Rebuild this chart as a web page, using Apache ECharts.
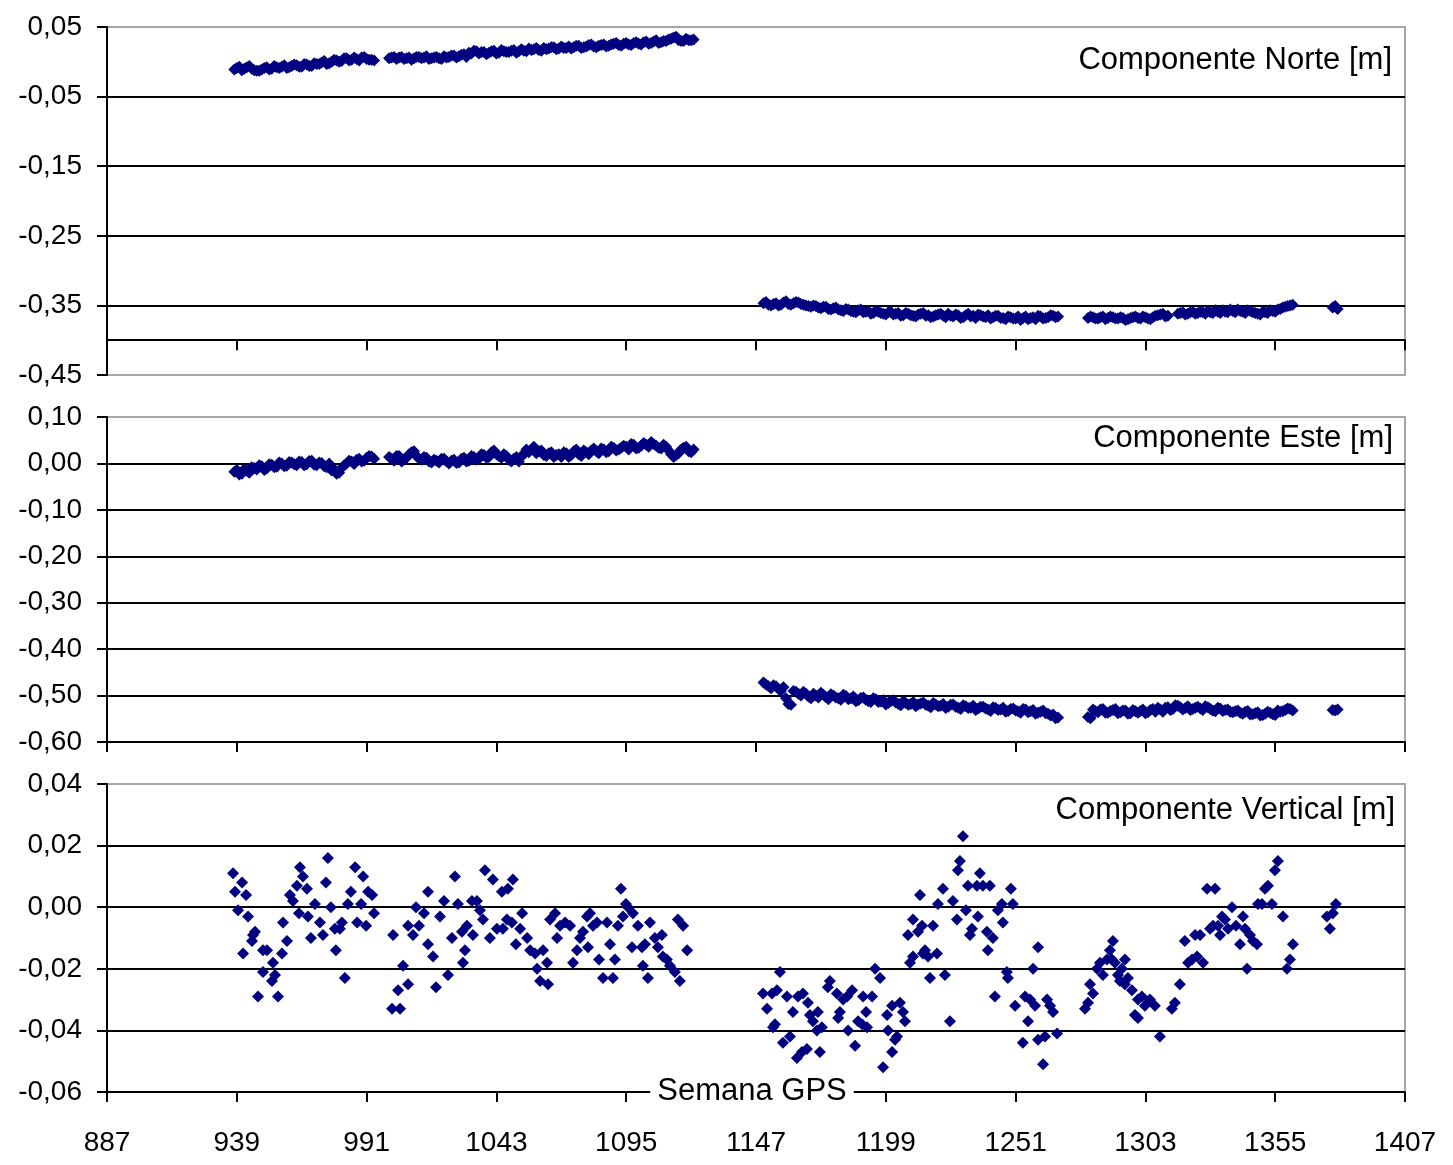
<!DOCTYPE html>
<html>
<head>
<meta charset="utf-8">
<script src="https://cdn.jsdelivr.net/npm/echarts@6/dist/echarts.min.js"></script>
<style>html,body{margin:0;padding:0;background:#fff}#c{width:1453px;height:1165px}</style>
</head>
<body>
<div id="c"></div>
<script>
// ---- data (GPS weeks and components in metres) ----
// even weeks
const weeksNE = [
  938,940,942,944,946,948,950,952,954,956,958,960,962,964,966,968,970,972,974,976,978,980,982,984,986,988,990,992,994,
  1000,1002,1004,1006,1008,1010,1012,1014,1016,1018,1020,1022,1024,1026,1028,1030,1032,1034,1036,1038,1040,1042,1044,1046,1048,1050,1052,1054,1056,1058,1060,1062,1064,1066,1068,1070,1072,1074,1076,1078,1080,1082,1084,1086,1088,1090,1092,1094,1096,1098,1100,1102,1104,1106,1108,1110,1112,1114,1116,1118,1120,1122,
  1150,1152,1154,1156,1158,1160,1162,1164,1166,1168,1170,1172,1174,1176,1178,1180,1182,1184,1186,1188,1190,1192,1194,1196,1198,1200,1202,1204,1206,1208,1210,1212,1214,1216,1218,1220,1222,1224,1226,1228,1230,1232,1234,1236,1238,1240,1242,1244,1246,1248,1250,1252,1254,1256,1258,1260,1262,1264,1266,1268,
  1280,1282,1284,1286,1288,1290,1292,1294,1296,1298,1300,1302,1304,1306,1308,1310,1312,1314,1316,1318,1320,1322,1324,1326,1328,1330,1332,1334,1336,1338,1340,1342,1344,1346,1348,1350,1352,1354,1356,1358,1360,1362,
  1378,1380
];
const norte = [
  -0.011,-0.007,-0.010,-0.006,-0.012,-0.013,-0.009,-0.011,-0.006,-0.009,-0.005,-0.008,-0.004,-0.007,-0.003,-0.006,-0.002,-0.003,0.001,-0.002,0.003,0.000,0.005,0.002,0.006,0.002,0.007,0.003,0.002,
  0.005,0.007,0.006,0.004,0.006,0.005,0.007,0.006,0.004,0.006,0.005,0.008,0.007,0.009,0.008,0.011,0.013,0.016,0.012,0.014,0.013,0.016,0.013,0.015,0.014,0.017,0.015,0.016,0.019,0.018,0.017,0.020,0.019,0.021,0.019,0.020,0.022,0.021,0.023,0.021,0.024,0.022,0.023,0.025,0.023,0.026,0.024,0.026,0.025,0.027,0.026,0.028,0.026,0.029,0.027,0.030,0.032,0.035,0.031,0.030,0.031,0.032,
  -0.347,-0.349,-0.348,-0.350,-0.346,-0.348,-0.347,-0.346,-0.349,-0.351,-0.350,-0.353,-0.352,-0.355,-0.354,-0.356,-0.358,-0.356,-0.359,-0.357,-0.360,-0.358,-0.361,-0.359,-0.362,-0.360,-0.363,-0.361,-0.364,-0.362,-0.365,-0.363,-0.361,-0.364,-0.366,-0.363,-0.365,-0.362,-0.366,-0.364,-0.367,-0.362,-0.365,-0.363,-0.366,-0.364,-0.367,-0.365,-0.368,-0.366,-0.369,-0.366,-0.368,-0.370,-0.367,-0.365,-0.369,-0.367,-0.365,-0.366,
  -0.368,-0.367,-0.369,-0.366,-0.368,-0.367,-0.369,-0.368,-0.370,-0.367,-0.368,-0.366,-0.369,-0.367,-0.364,-0.362,-0.365,null,-0.362,-0.360,-0.362,-0.359,-0.361,-0.360,-0.358,-0.361,-0.359,-0.357,-0.360,-0.358,-0.356,-0.359,-0.357,-0.360,-0.362,-0.359,-0.361,-0.358,-0.356,-0.353,-0.351,-0.349,
  -0.353,-0.355
];
const este = [
  -0.018,-0.024,-0.012,-0.020,-0.010,-0.004,-0.014,-0.002,-0.008,0.002,-0.006,0.003,-0.002,0.004,-0.004,0.005,-0.003,0.002,-0.006,0.000,-0.012,-0.020,-0.004,0.006,-0.001,0.010,0.006,0.016,0.010,
  0.014,0.006,0.016,0.008,0.020,0.026,0.010,0.014,0.004,0.008,0.002,0.010,0.000,0.008,0.002,0.012,0.006,0.014,0.010,0.018,0.014,0.028,0.016,0.020,0.008,0.010,0.004,0.020,0.024,0.036,0.026,0.018,0.022,0.014,0.020,0.024,0.014,0.026,0.020,0.028,0.020,0.032,0.022,0.030,0.026,0.034,0.030,0.038,0.030,0.040,0.034,0.044,0.036,0.042,0.034,0.040,0.028,0.014,0.022,0.034,0.026,0.030,
  -0.472,-0.480,-0.478,-0.486,-0.482,-0.518,-0.490,-0.496,-0.492,-0.502,-0.496,-0.504,-0.498,-0.508,-0.500,-0.506,-0.498,-0.508,-0.502,-0.510,-0.504,-0.512,-0.506,-0.514,-0.510,-0.516,-0.510,-0.518,-0.512,-0.520,-0.514,-0.519,-0.515,-0.522,-0.516,-0.523,-0.518,-0.524,-0.519,-0.526,-0.521,-0.527,-0.522,-0.528,-0.524,-0.530,-0.525,-0.531,-0.526,-0.533,-0.528,-0.534,-0.529,-0.536,-0.531,-0.537,-0.532,-0.539,-0.541,-0.547,
  -0.546,-0.530,-0.536,-0.529,-0.537,-0.531,-0.538,-0.532,-0.539,-0.531,-0.537,-0.530,-0.536,-0.529,-0.526,-0.535,-0.525,-0.529,-0.522,-0.530,-0.523,-0.529,-0.524,-0.531,-0.525,-0.532,-0.526,-0.533,-0.530,-0.536,-0.532,-0.539,-0.533,-0.540,-0.536,-0.542,-0.535,-0.540,-0.532,-0.534,-0.528,-0.532,
  -0.531,-0.530
];
// odd weeks
const weeksNEodd = [
  939,941,943,945,947,949,951,953,955,957,959,961,963,965,967,969,971,973,975,977,979,981,983,985,987,989,991,993,
  1001,1003,1005,1007,1009,1011,1013,1015,1017,1019,1021,1023,1025,1027,1029,1031,1033,1035,1037,1039,1041,1043,1045,1047,1049,1051,1053,1055,1057,1059,1061,1063,1065,1067,1069,1071,1073,1075,1077,1079,1081,1083,1085,1087,1089,1091,1093,1095,1097,1099,1101,1103,1105,1107,1109,1111,1113,1115,1117,1119,1121,
  1151,1153,1155,1157,1159,1161,1163,1165,1167,1169,1171,1173,1175,1177,1179,1181,1183,1185,1187,1189,1191,1193,1195,1197,1199,1201,1203,1205,1207,1209,1211,1213,1215,1217,1219,1221,1223,1225,1227,1229,1231,1233,1235,1237,1239,1241,1243,1245,1247,1249,1251,1253,1255,1257,1259,1261,1263,1265,1267,
  1281,1283,1285,1287,1289,1291,1293,1295,1297,1299,1301,1303,1305,1307,1309,1311,1313,1315,1317,1319,1321,1323,1325,1327,1329,1331,1333,1335,1337,1339,1341,1343,1345,1347,1349,1351,1353,1355,1357,1359,1361,
  1379
];
const norteOdd = [
  -0.009,-0.012,-0.008,-0.010,-0.013,-0.011,-0.008,-0.010,-0.008,-0.007,-0.009,-0.006,-0.005,-0.007,-0.004,-0.006,-0.003,-0.001,-0.003,0.000,0.002,0.001,0.005,0.003,0.004,0.006,0.004,0.003,
  0.006,0.004,0.007,0.005,0.003,0.007,0.005,0.008,0.005,0.007,0.004,0.006,0.009,0.006,0.010,0.007,0.012,0.015,0.014,0.011,0.015,0.012,0.017,0.014,0.016,0.013,0.018,0.015,0.017,0.020,0.016,0.018,0.021,0.018,0.022,0.020,0.019,0.023,0.020,0.022,0.025,0.021,0.024,0.022,0.025,0.027,0.023,0.027,0.024,0.028,0.025,0.029,0.027,0.031,0.028,0.030,0.033,0.036,0.030,0.033,0.031,
  -0.345,-0.350,-0.347,-0.349,-0.344,-0.349,-0.345,-0.348,-0.350,-0.352,-0.351,-0.354,-0.352,-0.356,-0.353,-0.357,-0.355,-0.358,-0.360,-0.356,-0.359,-0.362,-0.358,-0.361,-0.363,-0.359,-0.362,-0.365,-0.361,-0.364,-0.366,-0.362,-0.365,-0.367,-0.364,-0.362,-0.367,-0.365,-0.363,-0.368,-0.364,-0.366,-0.368,-0.364,-0.367,-0.369,-0.365,-0.368,-0.370,-0.367,-0.369,-0.371,-0.366,-0.368,-0.370,-0.366,-0.368,-0.364,-0.367,
  -0.366,-0.369,-0.367,-0.370,-0.366,-0.369,-0.367,-0.371,-0.368,-0.366,-0.369,-0.367,-0.370,-0.365,-0.363,-0.366,null,null,-0.361,-0.363,-0.360,-0.362,-0.359,-0.362,-0.360,-0.357,-0.361,-0.359,-0.356,-0.360,-0.358,-0.361,-0.358,-0.361,-0.363,-0.360,-0.357,-0.359,-0.355,-0.352,-0.350,
  -0.351
];
const esteOdd = [
  -0.014,-0.022,-0.016,-0.008,-0.013,-0.006,-0.011,-0.003,-0.007,0.000,-0.005,0.002,-0.004,0.003,-0.002,0.006,-0.004,0.001,-0.008,-0.015,-0.022,-0.010,0.000,0.004,0.008,0.004,0.012,0.015,
  0.010,0.016,0.004,0.012,0.024,0.016,0.008,0.012,0.002,0.006,0.010,0.004,0.006,0.001,0.010,0.004,0.016,0.008,0.020,0.012,0.024,0.020,0.012,0.016,0.004,0.014,0.016,0.030,0.030,0.022,0.028,0.016,0.024,0.018,0.014,0.022,0.018,0.030,0.016,0.024,0.028,0.026,0.032,0.024,0.036,0.028,0.034,0.036,0.042,0.032,0.038,0.040,0.046,0.038,0.032,0.036,0.020,0.018,0.030,0.036,0.024,
  -0.476,-0.484,-0.480,-0.490,-0.506,-0.520,-0.492,-0.500,-0.496,-0.506,-0.500,-0.494,-0.503,-0.497,-0.504,-0.509,-0.501,-0.506,-0.512,-0.505,-0.509,-0.514,-0.508,-0.513,-0.519,-0.512,-0.515,-0.521,-0.516,-0.518,-0.523,-0.517,-0.520,-0.525,-0.519,-0.522,-0.527,-0.520,-0.524,-0.529,-0.523,-0.526,-0.531,-0.524,-0.528,-0.533,-0.527,-0.530,-0.535,-0.529,-0.532,-0.537,-0.530,-0.534,-0.539,-0.535,-0.538,-0.543,-0.549,
  -0.549,-0.534,-0.530,-0.537,-0.533,-0.529,-0.536,-0.532,-0.538,-0.534,-0.533,-0.538,-0.531,-0.535,-0.530,-0.526,-0.531,-0.521,-0.525,-0.527,-0.531,-0.526,-0.528,-0.523,-0.529,-0.534,-0.528,-0.531,-0.535,-0.534,-0.537,-0.535,-0.541,-0.538,-0.543,-0.539,-0.537,-0.542,-0.535,-0.531,-0.529,
  -0.532
];
const vertWeeks = [
  937.5,941.1,938.3,942.7,939.5,943.5,941.5,945.5,946.3,945.1,949.5,951.1,953.5,949.5,954.3,953.1,947.5,955.5,957.1,959.1,957.5,960.3,961.5,963.1,964.3,965.5,967.1,963.9,967.5,970.3,972.3,973.5,968.7,975.5,974.7,976.7,978.7,978.3,981.1,980.3,982.3,983.5,984.7,986.4,989.6,991.6,993.2,988.8,987.2,990.8,994.0,
  1001.6,1005.6,1003.6,1007.6,1001.2,1004.4,1007.6,1012.0,1009.6,1010.8,1014.0,1015.6,1015.6,1017.6,1018.8,1020.4,1022.0,1023.6,1025.2,1026.4,1027.6,1029.2,1029.6,1031.2,
  1038.4,1041.6,1045.2,1047.6,1049.6,1033.2,1035.2,1036.4,1037.6,1033.6,1030.4,1040.4,1043.2,1045.6,1047.2,1049.2,1050.8,1053.3,1052.5,1055.3,1056.5,1058.5,1059.3,1060.5,1063.7,1061.7,1063.3,1064.5,1066.5,1067.3,1068.5,1070.5,1072.5,1073.7,1075.3,1076.5,1077.7,1079.3,1080.5,1079.7,1081.7,1083.3,1084.1,1085.7,1087.3,1088.5,1089.7,1090.5,1091.7,1092.9,1094.9,1095.7,1093.7,1097.7,1099.7,1097.3,1101.3,1102.5,1101.7,1103.7,1104.5,1106.5,1107.7,1109.3,1109.7,1111.3,1112.5,1114.5,1116.5,1115.7,1117.8,1119.4,
  1156.6,1149.8,1153.4,1155.4,1159.4,1151.4,1154.6,1153.8,1157.8,1160.6,1161.8,1163.4,1165.4,1167.4,1163.8,1165.8,1167.8,1168.6,1169.8,1171.8,1171.4,1173.4,1172.6,1176.6,1175.8,1179.4,1180.6,1179.9,1181.9,1183.5,1185.5,1183.9,1186.7,1187.9,1189.5,1189.9,1191.5,1191.1,1193.5,1194.7,1196.7,1197.9,1199.5,1199.9,1201.5,1203.5,1204.7,1205.9,1206.7,1201.5,1202.7,1208.7,1209.9,1216.7,1213.9,
  1229.9,1228.7,1227.9,1236.7,1231.9,1235.5,1237.9,1240.7,1221.9,1212.7,1249.1,1219.9,1225.9,1231.1,1245.5,1249.9,1243.9,1227.5,1235.9,1209.9,1245.9,1213.5,1217.9,1233.5,1207.9,1211.9,1232.7,1239.5,1241.9,1214.7,1219.5,1215.9,1239.9,1260.0,1222.7,1247.5,1258.0,1247.9,1242.7,1254.8,1256.8,1258.8,1263.6,1264.8,1266.0,1250.8,1256.0,1224.7,1267.6,1253.9,1260.0,1262.8,1262.0,
  1278.8,1280.0,1280.8,1282.0,1283.6,1284.8,1286.0,1287.6,1288.8,1290.0,1290.8,1292.0,1293.6,1294.8,1296.0,1297.6,1298.8,1300.0,1301.6,1302.8,1304.8,1306.8,1308.8,1289.6,1292.8,1300.0,1294.8,
  1313.6,1314.8,1316.8,1318.8,1320.1,1321.7,1322.9,1324.9,1326.1,1327.7,1328.9,1330.9,1332.1,1332.9,1334.9,1336.1,1337.7,1339.3,1340.9,1342.1,1343.7,1344.9,1346.1,1347.7,1349.7,1350.9,1352.1,1353.7,1354.9,1356.1,1358.1,1359.7,1360.9,1362.1,1323.7,1330.1,1333.7,1342.9,1348.1,
  1375.7,1376.9,1378.1,1379.3
];
const vertical = [
  0.011,0.008,0.005,0.004,-0.001,-0.003,-0.015,-0.009,-0.008,-0.011,-0.014,-0.014,-0.018,-0.021,-0.022,-0.024,-0.029,-0.029,-0.015,-0.011,-0.005,0.004,0.002,0.007,0.013,0.010,0.006,-0.002,-0.003,0.001,-0.005,-0.009,-0.010,0.016,0.008,0.000,-0.014,-0.007,-0.005,-0.007,-0.023,0.001,0.005,0.013,0.010,0.005,0.004,0.001,-0.005,-0.006,-0.002,
  -0.009,-0.019,-0.027,-0.025,-0.033,-0.033,-0.006,-0.006,-0.009,0.000,-0.002,0.005,-0.012,-0.016,-0.026,-0.003,0.002,-0.022,-0.010,0.010,0.001,-0.008,-0.018,-0.006,
  0.012,0.009,0.005,0.006,0.009,0.002,0.002,-0.001,-0.004,-0.009,-0.014,-0.010,-0.007,-0.007,-0.004,-0.005,-0.012,-0.002,-0.007,-0.010,-0.014,-0.015,-0.020,-0.024,-0.025,-0.014,-0.018,-0.004,-0.002,-0.010,-0.006,-0.005,-0.006,-0.018,-0.014,-0.010,-0.008,-0.003,-0.002,-0.013,-0.006,-0.005,-0.017,-0.023,-0.005,-0.012,-0.023,-0.017,-0.006,0.006,0.001,0.000,-0.003,-0.002,-0.006,-0.013,-0.013,-0.012,-0.019,-0.023,-0.005,-0.010,-0.013,-0.009,-0.016,-0.017,-0.019,-0.021,-0.024,-0.004,-0.006,-0.014,
  -0.021,-0.028,-0.028,-0.027,-0.029,-0.033,-0.038,-0.039,-0.044,-0.042,-0.034,-0.049,-0.047,-0.046,-0.029,-0.028,-0.031,-0.035,-0.037,-0.034,-0.040,-0.039,-0.047,-0.024,-0.026,-0.028,-0.034,-0.036,-0.030,-0.029,-0.027,-0.040,-0.045,-0.037,-0.038,-0.029,-0.039,-0.034,-0.029,-0.020,-0.023,-0.052,-0.035,-0.040,-0.032,-0.042,-0.031,-0.034,-0.037,-0.047,-0.043,-0.018,-0.016,-0.023,-0.015,
  0.023,0.015,0.012,0.011,0.007,0.007,0.007,0.007,0.006,0.004,0.006,0.001,0.002,-0.001,0.001,0.001,-0.001,-0.004,-0.003,-0.004,-0.005,-0.006,-0.006,-0.007,-0.009,-0.008,-0.009,-0.008,-0.010,-0.014,-0.015,-0.016,-0.014,-0.013,-0.022,-0.021,-0.020,-0.023,-0.029,-0.029,-0.030,-0.032,-0.030,-0.032,-0.034,-0.032,-0.037,-0.037,-0.041,-0.044,-0.043,-0.042,-0.051,
  -0.033,-0.031,-0.025,-0.028,-0.020,-0.018,-0.022,-0.017,-0.014,-0.011,-0.018,-0.022,-0.020,-0.025,-0.023,-0.027,-0.035,-0.030,-0.029,-0.032,-0.030,-0.032,-0.042,-0.017,-0.024,-0.036,-0.017,
  -0.033,-0.031,-0.025,-0.011,-0.018,-0.017,-0.009,-0.009,-0.018,0.006,-0.007,0.006,-0.006,-0.009,-0.004,-0.007,0.000,-0.006,-0.012,-0.003,-0.020,-0.009,-0.011,-0.012,0.001,0.006,0.007,0.001,0.012,0.015,-0.003,-0.020,-0.017,-0.012,-0.016,-0.006,-0.003,-0.007,0.001,
  -0.003,-0.007,-0.002,0.001
];
const xTickMin = 887, xTickMax = 1407, xTickStep = 52;
const panelTitles = ['Componente Norte [m]', 'Componente Este [m]', 'Componente Vertical [m]'];
const xAxisTitle = 'Semana GPS';

// ---- chart ----
const FONT = "'Liberation Sans', Arial, sans-serif";
const NAVY = '#000080';
const BORDER = '#a6a6a6';
function fmt(v) { if (Math.abs(v) < 1e-9) v = 0; return v.toFixed(2).replace('.', ','); }

const gridBase = { left: 107, right: 48, show: true, borderColor: BORDER, borderWidth: 2, backgroundColor: '#fff' };

function xAx(i) {
  return {
    type: 'value', gridIndex: i, min: xTickMin, max: xTickMax, interval: xTickStep,
    axisLine: i === 0
      ? { show: true, onZero: true, onZeroAxisIndex: 1, lineStyle: { color: '#000', width: 2 } }
      : { show: true, onZero: false, lineStyle: { color: '#000', width: 2 } },
    axisTick: { show: true, inside: false, length: 10, lineStyle: { color: '#000', width: 2 } },
    axisLabel: { show: i === 2, color: '#000', fontSize: 28, fontFamily: FONT, margin: 37, formatter: v => String(Math.round(v)) },
    splitLine: { show: false }
  };
}
function yAx(i, min, max, step, colors) {
  return {
    type: 'value', gridIndex: i, min: min, max: max, interval: step,
    axisLine: { show: true, onZero: false, lineStyle: { color: '#000', width: 2 } },
    axisTick: { show: true, inside: false, length: 10, lineStyle: { color: '#000', width: 2 } },
    axisLabel: { formatter: fmt, color: '#000', fontSize: 28, fontFamily: FONT, margin: 25 },
    splitLine: { show: true, lineStyle: { color: colors, width: 2 } }
  };
}
const sc = (xi, yi, data, size) => ({
  type: 'scatter', xAxisIndex: xi, yAxisIndex: yi, symbol: 'diamond', symbolSize: size,
  itemStyle: { color: NAVY, opacity: 1 }, data: data, silent: true
});
const pairs = (ws, vs) => ws.map((w, i) => [w, vs[i]]).filter(p => p[1] !== null);

const norteData = pairs(weeksNE, norte).concat(pairs(weeksNEodd, norteOdd));
const esteData = pairs(weeksNE, este).concat(pairs(weeksNEodd, esteOdd));
const vertData = pairs(vertWeeks, vertical);

const option = {
  animation: false,
  backgroundColor: '#fff',
  grid: [
    Object.assign({}, gridBase, { top: 27, height: 348 }),
    Object.assign({}, gridBase, { top: 417, height: 325 }),
    Object.assign({}, gridBase, { top: 784, height: 308 })
  ],
  xAxis: [xAx(0), xAx(1), xAx(2)],
  yAxis: [
    yAx(0, -0.45, 0.05, 0.1, [BORDER, '#000', '#000', '#000', '#000', BORDER]),
    { type: 'value', gridIndex: 0, min: -0.05, max: 0.45, show: false },
    yAx(1, -0.6, 0.1, 0.1, ['#000', '#000', '#000', '#000', '#000', '#000', '#000', BORDER]),
    yAx(2, -0.06, 0.04, 0.02, ['#000', '#000', '#000', '#000', '#000', BORDER])
  ],
  series: [sc(0, 0, norteData, 12), sc(1, 2, esteData, 12), sc(2, 3, vertData, 12)],
  graphic: [
    { type: 'text', x: 1392, y: 60, z: 100, style: { text: panelTitles[0], fill: '#000', font: '31px ' + FONT, align: 'right', verticalAlign: 'middle' } },
    { type: 'text', x: 1393, y: 438, z: 100, style: { text: panelTitles[1], fill: '#000', font: '31px ' + FONT, align: 'right', verticalAlign: 'middle' } },
    { type: 'text', x: 1395, y: 810, z: 100, style: { text: panelTitles[2], fill: '#000', font: '31px ' + FONT, align: 'right', verticalAlign: 'middle' } },
    { type: 'text', x: 752, y: 1091, z: 100, style: { text: xAxisTitle, fill: '#000', font: '31px ' + FONT, align: 'center', verticalAlign: 'middle', backgroundColor: '#fff', padding: [2, 7] } }
  ]
};
const chart = echarts.init(document.getElementById('c'), null, { renderer: 'canvas' });
chart.setOption(option);
</script>
</body>
</html>
